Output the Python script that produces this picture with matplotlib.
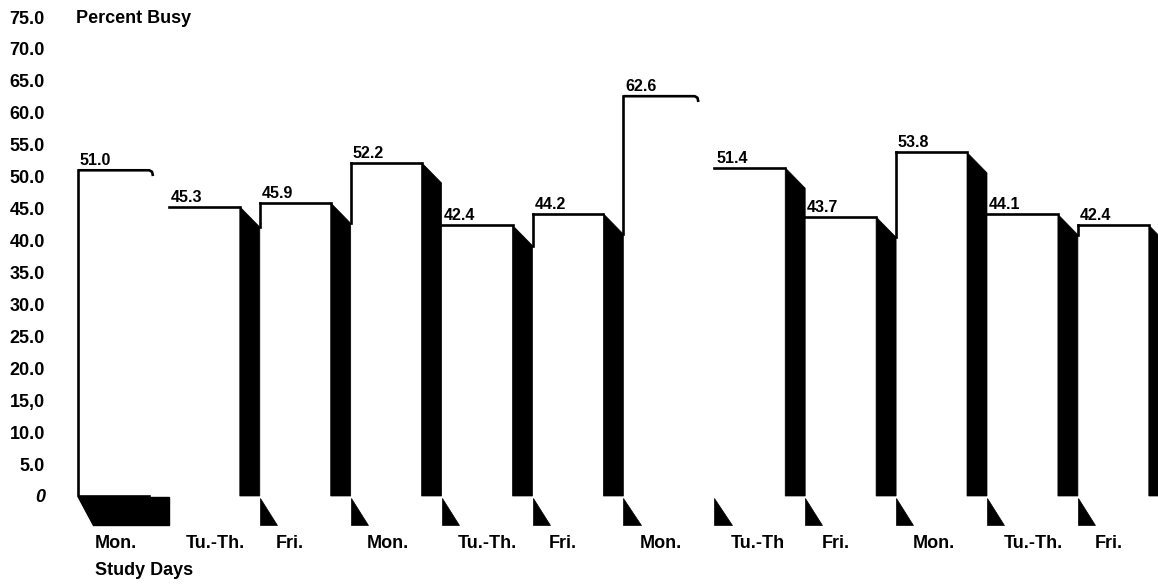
import matplotlib
matplotlib.use("Agg")
import matplotlib.pyplot as plt
from matplotlib.patches import Polygon

plt.rcParams['font.family'] = ['Liberation Sans', 'DejaVu Sans']
plt.rcParams['font.weight'] = 'bold'

# datos: porcentaje ocupado por dia de estudio
dias = ["Mon.", "Tu.-Th.", "Fri.", "Mon.", "Tu.-Th.", "Fri.",
        "Mon.", "Tu.-Th", "Fri.", "Mon.", "Tu.-Th.", "Fri."]
ocupado = [51.0, 45.3, 45.9, 52.2, 42.4, 44.2, 62.6, 51.4, 43.7, 53.8, 44.1, 42.4]
yticks = [0, 5, 10, 15, 20, 25, 30, 35, 40, 45, 50, 55, 60, 65, 70, 75]
ytick_labels = ["0", "5.0", "10.0", "15,0", "20.0", "25.0", "30.0", "35.0",
                "40.0", "45.0", "50.0", "55.0", "60.0", "65.0", "70.0", "75.0"]

# geometria de las barras "3D"
FRENTE = 0.78      # ancho de la cara frontal
LADO = 0.22        # ancho de la cara lateral negra
CAIDA = 3.2        # caida del borde superior del lado
ABIERTAS = {0, 6}  # barras sin lado negro (borde curvado)
PISO_A, PISO_B = -0.3, -4.5

fig = plt.figure(figsize=(11.58, 5.85), dpi=100)
ax = fig.add_axes([50/1158, 89/585, 1108/1158, 479/585])
ax.set_xlim((50-78)/90.9, (1158-78)/90.9)
ax.set_ylim(0, 75)
for s in ax.spines.values():
    s.set_visible(False)
ax.set_xticks([])
ax.set_yticks(yticks, ytick_labels)
ax.tick_params(axis='y', length=0, pad=3.6, labelsize=13)
ax.get_yticklabels()[0].set_style('italic')

lw = 1.9
for i, v in enumerate(ocupado):
    x0 = i
    if i in ABIERTAS:
        xr = x0 + 0.825
        # borde superior con la punta doblada
        ax.plot([x0, xr - 0.04, xr - 0.01, xr], [v, v, v - 0.25, v - 0.9],
                color='black', lw=lw, solid_capstyle='butt', clip_on=False)
    else:
        xr = x0 + FRENTE
        ax.plot([x0, xr], [v, v], color='black', lw=lw, clip_on=False)
        lado = Polygon([(xr, v), (xr + LADO, v - CAIDA), (xr + LADO, 0), (xr, 0)],
                       closed=True, facecolor='black', edgecolor='black', lw=0.5,
                       clip_on=False)
        ax.add_patch(lado)

    # borde izquierdo
    if i == 0:
        ax.plot([x0, x0, x0 + 0.78], [v, 0, 0], color='black', lw=lw, clip_on=False)
    elif (i - 1) not in ABIERTAS:
        tope = ocupado[i - 1] - CAIDA
        if v > tope:
            ax.plot([x0, x0], [v, tope], color='black', lw=lw, clip_on=False)

    ax.text(x0 + 0.02, v + 0.78, f"{v:.1f}", ha='left', va='baseline', fontsize=11.5)
    ax.text(x0 + 0.18, -8.14, dias[i], ha='left', va='baseline', fontsize=13,
            clip_on=False)

# sombras del piso
ax.add_patch(Polygon([(0, -0.15), (1.0, -0.15), (1.0, PISO_B), (0.165, PISO_B)],
                     closed=True, facecolor='black', edgecolor='black', clip_on=False))
for k in range(2, len(ocupado)):
    ax.add_patch(Polygon([(k, PISO_A), (k, PISO_B), (k + 0.19, PISO_B)],
                         closed=True, facecolor='black', edgecolor='black',
                         lw=0.5, clip_on=False))

fig.text(76/1158, 1 - 23/585, "Percent Busy", ha='left', va='baseline', fontsize=13)
fig.text(95/1158, 1 - 575/585, "Study Days", ha='left', va='baseline', fontsize=13)

fig.savefig("out.png", dpi=100)
